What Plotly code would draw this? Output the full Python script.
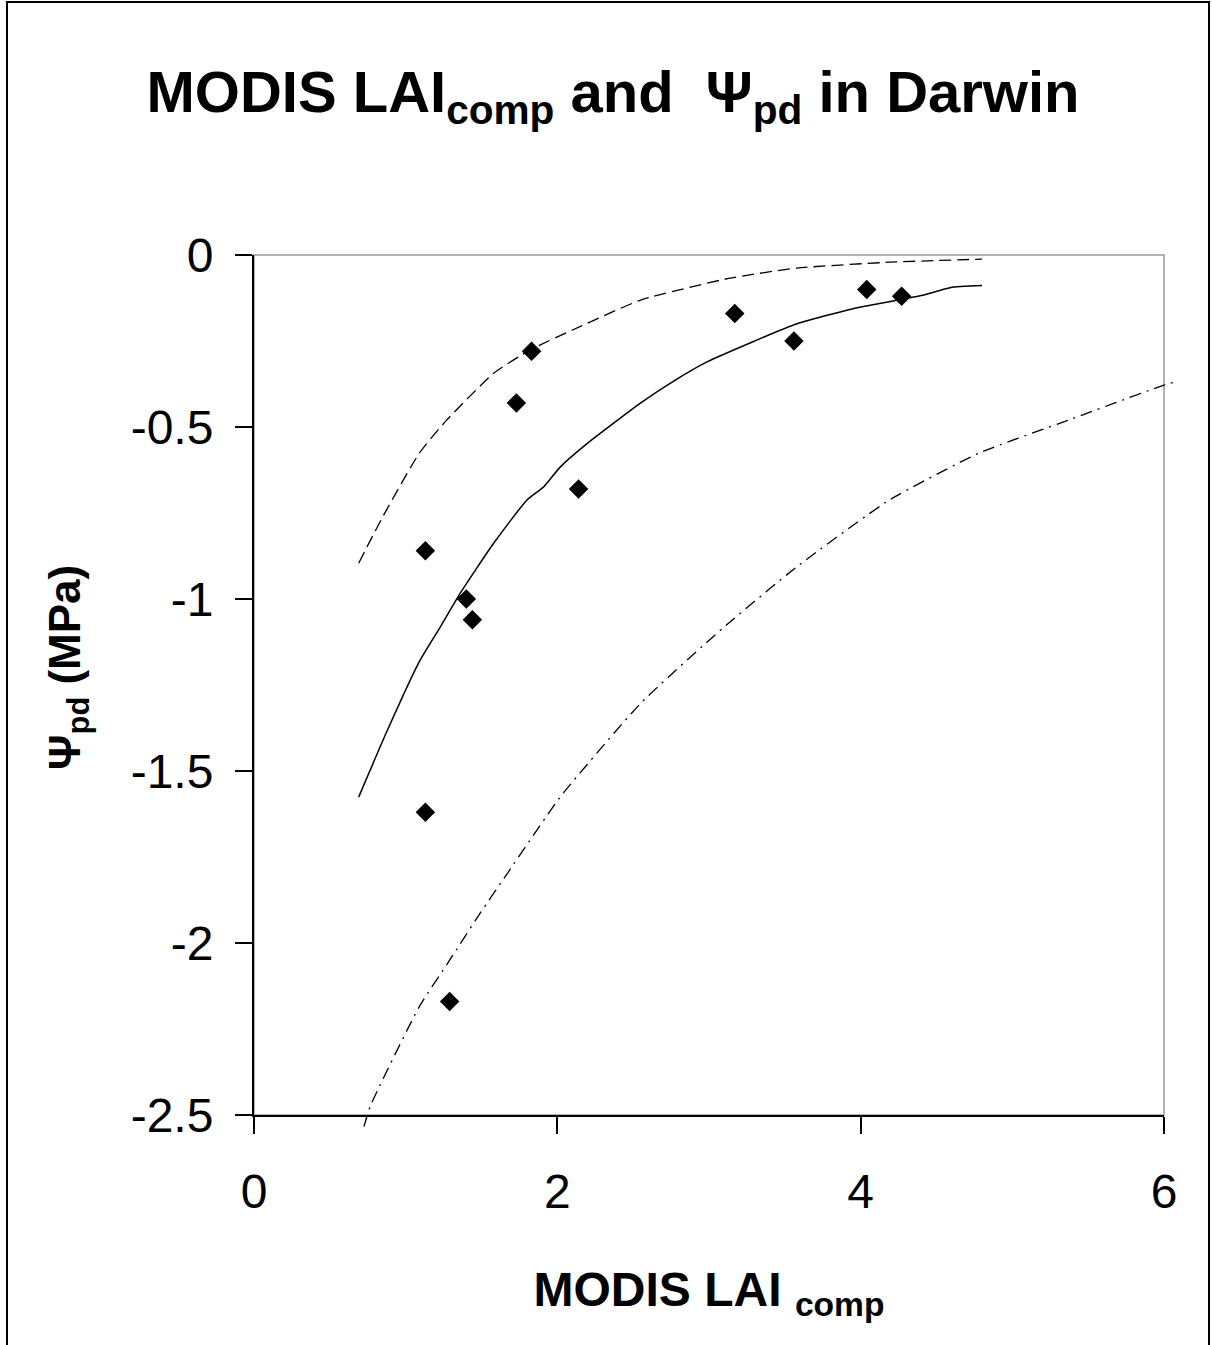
import plotly.graph_objects as go

# Observed points
obs_x = [1.13, 1.83, 1.73, 2.14, 1.40, 1.44, 1.13, 1.29, 3.17, 3.56, 4.04, 4.27]
obs_y = [-0.86, -0.28, -0.43, -0.68, -1.00, -1.06, -1.62, -2.17, -0.17, -0.25, -0.10, -0.12]

# Fitted curve (solid)
fit_x = [0.69, 0.875, 1.09, 1.23, 1.36, 1.58, 1.80, 1.91, 2.02, 2.20, 2.55, 2.78, 2.99, 3.58, 4.00, 4.40, 4.59, 4.80]
fit_y = [-1.576, -1.386, -1.182, -1.08, -0.983, -0.838, -0.712, -0.674, -0.616, -0.547, -0.43, -0.363, -0.31, -0.20, -0.151, -0.118, -0.095, -0.089]

# Upper bound (dashed)
up_x = [0.69, 0.85, 1.09, 1.27, 1.58, 1.82, 2.10, 2.55, 3.13, 3.58, 4.19, 4.80]
up_y = [-0.896, -0.76, -0.576, -0.48, -0.344, -0.276, -0.218, -0.131, -0.068, -0.038, -0.021, -0.012]

# Lower bound (dash-dot)
lo_x = [0.725, 0.765, 1.09, 1.29, 1.49, 1.67, 2.02, 2.55, 3.09, 3.58, 4.19, 4.78, 5.37, 6.00, 6.08]
lo_y = [-2.534, -2.476, -2.185, -2.05, -1.914, -1.798, -1.575, -1.303, -1.085, -0.906, -0.712, -0.576, -0.48, -0.378, -0.368]

x_ticks = [0, 2, 4, 6]
y_ticks = [0, -0.5, -1, -1.5, -2, -2.5]
y_ticktext = ["0", "-0.5", "-1", "-1.5", "-2", "-2.5"]
x_range = [0, 6]
y_range = [-2.5, 0]

FONT = "Liberation Sans, Arial, sans-serif"

# layout geometry (pixels)
W, H = 1212, 1345
ML, MR, MT, MB = 254, 30, 255, 212
PW = W - ML - MR          # 928
PH = H - MT - MB          # 878
MAIN_W = 910
MAIN_H = 860
ext_x = PW / MAIN_W
ext_y = PH / MAIN_H

fig = go.Figure()

fig.add_trace(go.Scatter(x=up_x, y=up_y, mode="lines",
                         line=dict(color="black", width=1.3, dash="12px,6px", shape="spline", smoothing=0.5),
                         showlegend=False, hoverinfo="skip"))
fig.add_trace(go.Scatter(x=fit_x, y=fit_y, mode="lines",
                         line=dict(color="black", width=1.5, shape="spline", smoothing=0.5),
                         showlegend=False))
fig.add_trace(go.Scatter(x=lo_x, y=lo_y, mode="lines", xaxis="x2", yaxis="y2",
                         line=dict(color="black", width=1.3, dash="12px,6px,2px,6px", shape="spline", smoothing=0.5),
                         showlegend=False))
fig.add_trace(go.Scatter(x=obs_x, y=obs_y, mode="markers",
                         marker=dict(symbol="diamond", size=15, color="black"),
                         showlegend=False))

axis_common = dict(showgrid=False, zeroline=False, ticks="outside", ticklen=17, tickwidth=1.5, tickcolor="black",
                   showline=True, linecolor="black", linewidth=2,
                   tickfont=dict(family=FONT, size=48, color="black"))

fig.update_layout(
    width=W, height=H,
    margin=dict(l=ML, r=MR, t=MT, b=MB, autoexpand=False),
    paper_bgcolor="white", plot_bgcolor="rgba(0,0,0,0)",
    title=dict(text="<b>MODIS LAI<sub>comp</sub> and&nbsp; Ψ<sub>pd</sub> in Darwin</b>",
               font=dict(family=FONT, size=58, color="black"),
               x=613 / W, xanchor="center", y=1 - 92 / H, yanchor="middle"),
    xaxis=dict(range=x_range, tickvals=x_ticks, ticktext=[str(v) for v in x_ticks],
               domain=[0, MAIN_W / PW], anchor="y", ticklabelstandoff=16,
               title=dict(text="<b>MODIS LAI <sub>comp</sub></b>", font=dict(family=FONT, size=48, color="black"), standoff=56),
               automargin=False, **axis_common),
    yaxis=dict(range=y_range, tickvals=y_ticks, ticktext=y_ticktext,
               domain=[1 - MAIN_H / PH, 1], anchor="x", ticklabelstandoff=12,
               automargin=False, **axis_common),
    xaxis2=dict(range=[x_range[0], x_range[0] + (x_range[1] - x_range[0]) * ext_x], domain=[0, 1], anchor="y2",
                visible=False, showgrid=False, zeroline=False),
    yaxis2=dict(range=[y_range[1] - (y_range[1] - y_range[0]) * ext_y, y_range[1]], domain=[0, 1], anchor="x2",
                visible=False, showgrid=False, zeroline=False),
    annotations=[
        dict(text="<b>Ψ<sub>pd</sub> (MPa)</b>", textangle=-90, showarrow=False,
             xref="paper", yref="paper", x=(68 - ML) / PW, y=((H - MB) - 668) / PH,
             xanchor="center", yanchor="middle",
             font=dict(family=FONT, size=44, color="black")),
    ],
    shapes=[
        dict(type="rect", xref="x domain", yref="y domain", x0=0, x1=1, y0=0, y1=1,
             line=dict(color="#9a9a9a", width=1.5), layer="below"),
        dict(type="rect", xref="paper", yref="paper",
             x0=(7 - ML) / PW, x1=(1209 - ML) / PW,
             y0=((H - MB) - 1360) / PH, y1=((H - MB) - 2) / PH,
             line=dict(color="black", width=2), layer="below"),
    ],
)

fig.write_html("out.html", config={"displayModeBar": False},
               post_script="document.body.style.margin='0';document.body.style.overflow='hidden';")
